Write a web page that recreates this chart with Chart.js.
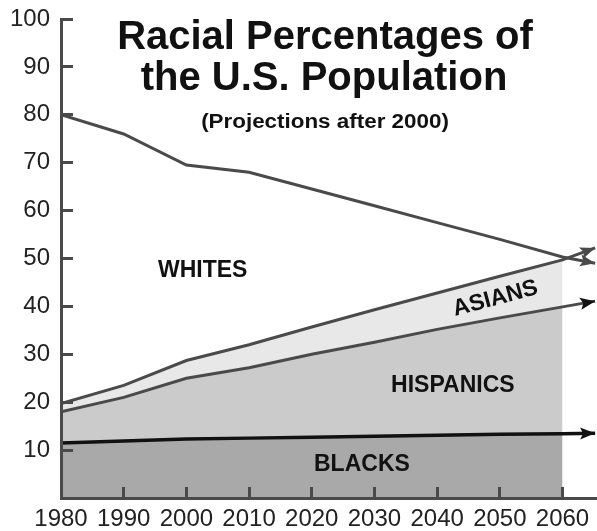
<!DOCTYPE html>
<html><head><meta charset="utf-8">
<script src="https://cdn.jsdelivr.net/npm/chart.js@4"></script>
<style>html,body{margin:0;padding:0;background:#fff}#c{display:block}</style>
</head><body>
<canvas id="c" width="597" height="531"></canvas>
<script>
// Data (percent of U.S. population; stacked tops for the shaded bands)
const years = [1980, 1990, 2000, 2010, 2020, 2030, 2040, 2050, 2060];
const arrowYear = 2065.2;
const whites = [80, 76, 69.5, 68, 64.5, 61, 57.5, 54, 50.3];
const whitesEnd = 49;
const asiansTop = [19.7, 23.5, 28.7, 32, 35.7, 39.3, 42.8, 46.3, 49.7];
const asiansEnd = 52.2;
const hispanicsTop = [18, 21, 25, 27.2, 30, 32.5, 35.2, 37.6, 39.9];
const hispanicsEnd = 41.1;
const blacks = [11.5, 11.9, 12.3, 12.5, 12.7, 12.9, 13.1, 13.3, 13.4];
const blacksEnd = 13.5;
const titleLines = ['Racial Percentages of', 'the U.S. Population'];
const subtitle = '(Projections after 2000)';
const bandNames = ['WHITES', 'ASIANS', 'HISPANICS', 'BLACKS'];

const pts = (vals) => vals.map((v, i) => ({x: years[i], y: v}));
const ext = (vals, end) => pts(vals).concat([{x: arrowYear, y: end}]);

const LINE = '#4a4a4a', DARK = '#111111', AXIS = '#4a4a4a';

const labelSpots = [
  {x: 2002.6, y: 47.4, rot: 0},
  {x: 2049.3, y: 41.6, rot: -15},
  {x: 2042.5, y: 23.4, rot: 0},
  {x: 2028.0, y: 6.9, rot: 0}
];

const decor = {
  id: 'decor',
  afterDraw(chart) {
    const ctx = chart.ctx, xs = chart.scales.x, ys = chart.scales.y;
    ctx.save();
    // arrowheads
    [[0, LINE], [1, LINE], [2, DARK], [3, DARK]].forEach(([di, col]) => {
      const d = chart.data.datasets[di].data;
      const a = d[d.length - 2], b = d[d.length - 1];
      const x1 = xs.getPixelForValue(a.x), y1 = ys.getPixelForValue(a.y);
      const x2 = xs.getPixelForValue(b.x), y2 = ys.getPixelForValue(b.y);
      const ang = Math.atan2(y2 - y1, x2 - x1);
      ctx.save();
      ctx.translate(x2, y2); ctx.rotate(ang);
      ctx.fillStyle = col;
      ctx.beginPath(); ctx.moveTo(0, 0); ctx.lineTo(-15, -6); ctx.lineTo(-12, 0); ctx.lineTo(-15, 6); ctx.closePath(); ctx.fill();
      ctx.restore();
    });
    // band labels
    ctx.fillStyle = '#111';
    ctx.font = 'bold 23px "Liberation Sans", Arial, sans-serif';
    ctx.textAlign = 'center'; ctx.textBaseline = 'middle';
    bandNames.forEach((t, i) => {
      const s = labelSpots[i];
      ctx.save();
      ctx.translate(xs.getPixelForValue(s.x), ys.getPixelForValue(s.y));
      ctx.rotate(s.rot * Math.PI / 180);
      ctx.fillText(t, 0, 0);
      ctx.restore();
    });
    // title
    ctx.textBaseline = 'alphabetic';
    ctx.font = 'bold 40px "Liberation Sans", Arial, sans-serif';
    ctx.fillText(titleLines[0], 325, 49);
    ctx.fillText(titleLines[1], 324, 90);
    ctx.font = 'bold 20px "Liberation Sans", Arial, sans-serif';
    ctx.save(); ctx.translate(325, 128); ctx.scale(1.12, 1); ctx.fillText(subtitle, 0, 0); ctx.restore();
    ctx.restore();
  }
};

new Chart(document.getElementById('c'), {
  type: 'line',
  data: {
    datasets: [
      {label: 'Whites', data: ext(whites, whitesEnd), borderColor: LINE, borderWidth: 3, fill: false},
      {label: 'Asians line', data: ext(asiansTop, asiansEnd), borderColor: LINE, borderWidth: 3, fill: false},
      {label: 'Hispanics line', data: ext(hispanicsTop, hispanicsEnd), borderColor: LINE, borderWidth: 3, fill: false},
      {label: 'Blacks line', data: ext(blacks, blacksEnd), borderColor: DARK, borderWidth: 3.5, fill: false},
      {label: 'Blacks', data: pts(blacks), borderWidth: 0, backgroundColor: '#a9a9a9', fill: 'origin'},
      {label: 'Hispanics', data: pts(hispanicsTop), borderWidth: 0, backgroundColor: '#cbcbcb', fill: 4},
      {label: 'Asians', data: pts(asiansTop), borderWidth: 0, backgroundColor: '#e8e8e8', fill: 5}
    ]
  },
  options: {
    responsive: false,
    animation: false,
    devicePixelRatio: 1,
    layout: {padding: {top: 19, right: 0, left: 0, bottom: 0}},
    elements: {point: {radius: 0}, line: {tension: 0}},
    plugins: {legend: {display: false}, tooltip: {enabled: false}, title: {display: false}},
    scales: {
      x: {
        type: 'linear', min: 1980, max: 2065.5,
        grid: {display: true, drawOnChartArea: false, drawTicks: true, tickLength: -11, tickWidth: 3, tickColor: AXIS, z: 1},
        border: {display: true, color: AXIS, width: 3, z: 1},
        ticks: {stepSize: 10, includeBounds: false, padding: 18, color: '#222', maxRotation: 0, autoSkip: false,
          font: {family: '"Liberation Sans", Arial, sans-serif', size: 24},
          callback: v => (v <= 2060 ? String(v) : '')},
        afterFit: s => { s.height = 33; s.paddingLeft = 0; s.paddingRight = 0; }
      },
      y: {
        min: 0, max: 100,
        grid: {display: true, drawOnChartArea: false, drawTicks: true, tickLength: -12, tickWidth: 3, tickColor: AXIS, z: 1},
        border: {display: true, color: AXIS, width: 3, z: 1},
        ticks: {stepSize: 10, padding: 23, color: '#222',
          font: {family: '"Liberation Sans", Arial, sans-serif', size: 24},
          callback: v => (v === 0 ? '' : String(v))},
        afterFit: s => { s.width = 61; s.paddingTop = 0; s.paddingBottom = 0; }
      }
    }
  },
  plugins: [decor]
});
</script>
</body></html>
